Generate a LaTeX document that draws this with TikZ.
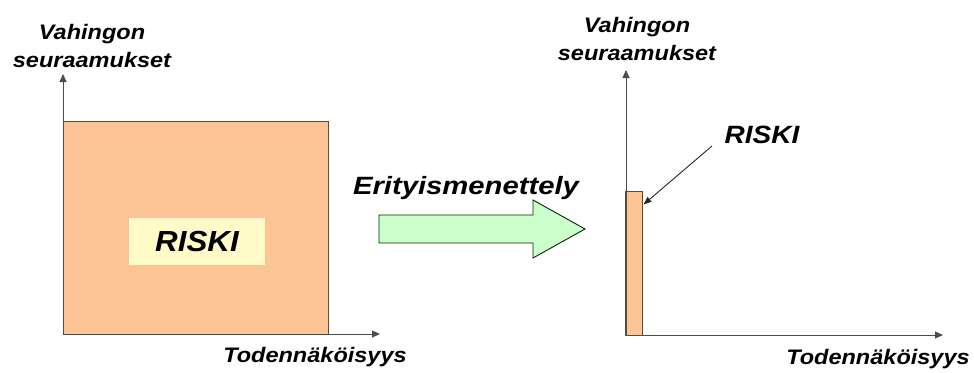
\documentclass[tikz,border=0pt]{standalone}
\usepackage{fontspec}
\setmainfont{Liberation Sans}
\usetikzlibrary{arrows.meta}
\definecolor{riskorange}{RGB}{250,196,148}
\definecolor{risklabel}{RGB}{255,250,200}
\definecolor{shiftgreen}{RGB}{204,255,204}
\definecolor{edgebrown}{RGB}{90,75,60}
\begin{document}
\begin{tikzpicture}[x=1pt,y=-1pt,
  axis/.style={draw=black!70, line width=1pt, -{Triangle[length=8pt,width=7pt]}},
  riskarea/.style={draw=edgebrown, line width=1pt, fill=riskorange, inner sep=0pt},
  axislabel/.style={font=\fontsize{21}{28}\selectfont\bfseries\itshape, xscale=1.12, align=center, inner sep=0pt, anchor=base},
  leader/.style={draw=black!85, line width=0.9pt, -{Triangle[length=8pt,width=6pt]}}
]
  \useasboundingbox (0,0) rectangle (974,372);

  % ---- left chart: risk before the procedure
  \node[riskarea, minimum width=265pt, minimum height=213pt] (big) at (195.5,227.5) {};
  \node[fill=risklabel, inner sep=0pt, minimum width=136pt, minimum height=47pt,
        font=\fontsize{29}{34}\selectfont\bfseries\itshape] (riskl) at (197,241.5)
        {\scalebox{1.08}[1]{RISKI}};
  \coordinate (o1) at (63,334);
  \coordinate (y1) at (63,74);
  \coordinate (x1) at (380,334);
  \draw[axis] (o1) -- (y1);
  \draw[axis] (o1) -- (x1);
  % anchor=base of a two-line label sits on its last line
  \node[axislabel] (vl) at (92,67) {Vahingon\\seuraamukset};
  \node[axislabel] (tl) at (315,362) {Todennäköisyys};

  % ---- transition arrow
  \draw[draw=black!60!green!40!black, line width=0.9pt, fill=shiftgreen]
    (379,215) -- (533,215) -- (533,200) -- (585,229) -- (533,258) -- (533,243) -- (379,243) -- cycle;
  \node[font=\fontsize{25}{30}\selectfont\bfseries\itshape, xscale=1.17, inner sep=0pt, anchor=base]
    (proc) at (466,194) {Erityismenettely};

  % ---- right chart: risk after the procedure
  \node[riskarea, minimum width=17pt, minimum height=144pt] (bar) at (633.5,263) {};
  \coordinate (o2) at (626,335);
  \coordinate (y2) at (626,70);
  \coordinate (x2) at (943,335);
  \draw[axis] (o2) -- (y2);
  \draw[axis] (o2) -- (x2);
  \node[axislabel] (vr) at (637,60) {Vahingon\\seuraamukset};
  \node[axislabel] (tr) at (878,364) {Todennäköisyys};
  \node[font=\fontsize{25}{30}\selectfont\bfseries\itshape, xscale=1.12, inner sep=0pt, anchor=base]
    (riskr) at (762,143) {RISKI};
  \coordinate (lead) at (712,146);
  \draw[leader] (lead) -- ([xshift=1pt,yshift=-14pt]bar.north east);
\end{tikzpicture}
\end{document}
